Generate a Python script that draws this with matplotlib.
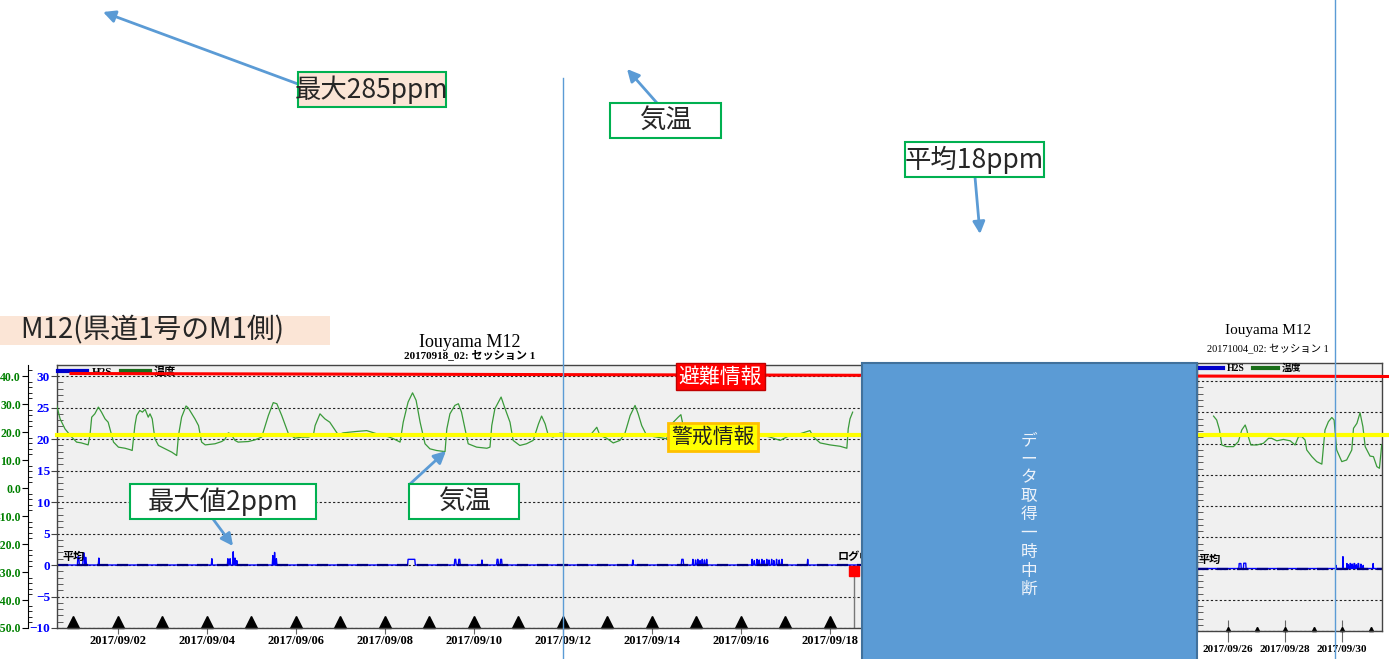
import numpy as np
import matplotlib.pyplot as plt
import matplotlib.dates as mdates
from matplotlib.patches import Rectangle, FancyArrowPatch
from matplotlib.lines import Line2D
from matplotlib.ticker import MultipleLocator, FormatStrFormatter
from datetime import datetime

W, H = 1389, 659
JP = ['Noto Sans CJK JP', 'DejaVu Sans']
SERIF = ['Liberation Serif', 'Noto Sans CJK JP']
plt.rcParams['font.family'] = SERIF

base = mdates.date2num(datetime(2017, 9, 1))

# ---- session 1 (20170918_02): days from 2017/09/01 00:00 ----
temp1_day = [-0.38, -0.30, -0.19, -0.04, 0.07, 0.18, 0.33, 0.37, 0.41, 0.48, 0.56, 0.63, 0.71, 0.78,
             0.86, 0.90, 1.01, 1.16, 1.27, 1.32, 1.38, 1.42, 1.49, 1.55, 1.61, 1.68, 1.72, 1.77,
             1.83, 1.91, 2.06, 2.21, 2.32, 2.36, 2.43, 2.53, 2.58, 2.66, 2.73, 2.81, 2.88, 2.96,
             3.18, 3.33, 3.40, 3.48, 3.52, 3.55, 3.63, 3.70, 3.93, 4.08, 4.23, 4.38, 4.49, 4.57,
             4.68, 4.83, 4.98, 5.13, 5.28, 5.39, 5.43, 5.54, 5.65, 5.76, 5.86, 5.95, 6.06, 6.36,
             6.59, 6.81, 7.04, 7.19, 7.34, 7.41, 7.52, 7.62, 7.70, 7.79, 7.90, 8.01, 8.16, 8.35,
             8.39, 8.46, 8.57, 8.65, 8.72, 8.80, 8.87, 9.06, 9.29, 9.36, 9.40, 9.47, 9.61, 9.70,
             9.81, 9.88, 10.03, 10.18, 10.33, 10.45, 10.52, 10.60, 10.67, 10.78, 10.93, 11.16,
             11.38, 11.61, 11.76, 11.83, 11.98, 12.13, 12.28, 12.39, 12.51, 12.62, 12.69, 12.77,
             12.88, 13.11, 13.33, 13.40, 13.48, 13.59, 13.65, 13.70, 13.76, 14.23, 14.83, 15.21,
             15.43, 15.65, 15.88, 16.10, 16.33, 16.55, 16.63, 16.78, 17.00, 17.23, 17.38, 17.41,
             17.45, 17.51]
temp1_val = [29.7, 24.7, 21.1, 18.2, 16.4, 16.1, 15.4, 18.8, 25.3, 26.5, 28.9, 27.1, 24.7, 23.5,
             18.8, 16.4, 14.6, 14.2, 13.7, 13.4, 22.3, 25.9, 27.7, 27.1, 28.1, 25.3, 26.5, 24.7,
             17.6, 15.2, 14.0, 12.8, 11.6, 18.8, 25.3, 29.3, 28.6, 26.5, 24.7, 22.3, 16.4, 15.4,
             15.8, 16.6, 17.3, 19.7, 19.4, 19.0, 17.0, 16.4, 16.6, 17.2, 18.2, 25.9, 30.5, 30.1,
             25.9, 19.4, 17.8, 18.2, 18.2, 18.8, 22.3, 26.5, 24.7, 23.5, 21.1, 19.0, 19.7, 20.2,
             20.5, 19.4, 18.5, 17.6, 16.4, 23.5, 30.7, 34.0, 31.3, 23.5, 15.8, 14.0, 13.4, 13.0,
             21.1, 26.5, 29.5, 30.1, 27.1, 21.1, 15.8, 14.6, 14.2, 14.6, 22.3, 28.3, 32.5, 28.3,
             23.5, 17.0, 15.2, 15.8, 17.0, 22.9, 25.7, 22.9, 18.8, 18.2, 19.6, 19.4,
             19.0, 18.8, 21.7, 18.8, 17.8, 16.1, 17.0, 19.4, 25.9, 29.5, 26.5, 22.3,
             18.8, 18.2, 17.6, 21.7, 23.5, 25.3, 26.2, 22.3, 19.9, 18.2, 19.4, 18.8,
             19.0, 18.2, 17.0, 18.8, 19.4, 20.5, 18.2, 16.1, 15.4, 14.9, 14.2, 21.1,
             24.7, 27.1]

# H2S events (start day, end day, ppm)
h2s1_start = [0.10, 0.22, 0.27, 0.57, 3.11, 3.47, 3.52, 3.59, 3.63, 3.67, 4.48, 4.52, 4.56, 7.52,
              8.57, 8.66, 9.18, 9.52, 9.60, 12.57, 13.67, 13.92, 13.98, 14.03, 14.08, 14.13, 14.18,
              14.23, 15.25, 15.30, 15.36, 15.41, 15.47, 15.52, 15.58, 15.63, 15.69, 15.74, 15.80,
              15.86, 15.92, 16.50]
h2s1_end = [0.12, 0.24, 0.28, 0.57, 3.11, 3.47, 3.52, 3.59, 3.63, 3.67, 4.48, 4.52, 4.56, 7.67,
            8.59, 8.68, 9.18, 9.54, 9.62, 12.57, 13.70, 13.92, 13.98, 14.03, 14.08, 14.13, 14.18,
            14.23, 15.25, 15.30, 15.36, 15.41, 15.47, 15.52, 15.58, 15.63, 15.69, 15.74, 15.80,
            15.86, 15.92, 16.50]
h2s1_ppm = [1.3, 1.9, 1.2, 1.1, 1.0, 1.0, 1.0, 2.1, 1.1, 0.7, 1.5, 2.0, 1.0, 0.9,
            0.9, 0.9, 0.8, 0.9, 0.9, 0.8, 0.9, 0.9, 0.8, 0.9, 0.7, 0.9, 0.8,
            0.9, 0.9, 0.7, 0.9, 0.8, 0.9, 0.7, 0.9, 0.8, 0.9, 0.7, 0.9,
            0.8, 0.9, 0.9]
h2s1_avg = 0.0
log_day = 17.54
log_val = -0.95

# ---- session 2 (20171004_02) ----
temp2_day = [24.49, 24.60, 24.70, 24.78, 24.95, 25.19, 25.36, 25.48, 25.60, 25.66, 25.71, 25.80,
             26.01, 26.24, 26.42, 26.53, 26.71, 26.94, 27.18, 27.35, 27.47, 27.59, 27.70, 27.76,
             27.94, 28.11, 28.29, 28.40, 28.52, 28.64, 28.72, 28.81, 28.99, 29.16, 29.34, 29.40,
             29.52, 29.63, 29.73, 29.81, 29.98, 30.10, 30.22, 30.31, 30.39]
temp2_val = [27.4, 26.0, 22.4, 17.0, 16.4, 16.4, 18.2, 22.4, 24.2, 22.4, 20.0, 17.0,
             17.0, 17.6, 19.4, 19.4, 18.5, 19.0, 18.5, 17.0, 20.0, 20.0, 18.8, 15.2,
             12.8, 11.0, 10.1, 22.4, 25.4, 26.9, 26.0, 15.2, 11.0, 11.6, 15.2, 23.0,
             24.8, 28.6, 23.6, 16.4, 13.0, 12.8, 9.2, 8.6, 17.0]
h2s2_start = [25.39, 25.55, 28.79, 29.03, 29.17, 29.22, 29.28, 29.36, 29.42, 29.50, 29.56, 29.66,
              29.74, 30.09]
h2s2_end = [25.45, 25.62, 28.79, 29.03, 29.17, 29.22, 29.30, 29.36, 29.44, 29.50, 29.58, 29.66,
            29.74, 30.09]
h2s2_ppm = [0.8, 0.85, 0.5, 1.9, 0.8, 0.6, 0.8, 0.7, 0.8, 0.6, 0.8, 0.7, 0.5, 0.8]
h2s2_avg = 0.0

fig = plt.figure(figsize=(W / 100, H / 100), dpi=100)


def px_rect(x0, y0, x1, y1):
    return [x0 / W, 1 - y1 / H, (x1 - x0) / W, (y1 - y0) / H]


def h2s_series(starts, ends, ppm, t0, t1):
    t, v = [t0], [0.0]
    for s, e, p in zip(starts, ends, ppm):
        t += [s - 0.012, s, e, e + 0.012]
        v += [0, p, p, 0]
    t.append(t1)
    v.append(0.0)
    return base + np.array(t), np.array(v)


def panel(rect, t0, t1, ytop, tday, tval, hs, he, hp, avg, mark_days, big):
    ax = fig.add_axes(rect)
    ax.set_facecolor('#f0f0f0')
    ax.set_xlim(base + t0, base + t1)
    ax.set_ylim(-10, ytop)
    for s in ax.spines.values():
        s.set_color('#444444')
        s.set_linewidth(1)
    ax.set_yticks(range(-10, 31, 5))
    ax.yaxis.set_minor_locator(MultipleLocator(1))
    ax.yaxis.grid(True, which='major', linestyle=(0, (2, 2)), color='#222222', lw=0.8)
    ax.tick_params(axis='y', which='major', direction='out', length=4, color='#444444',
                   labelcolor='#0000ff', labelsize=9.5, pad=1, labelleft=big)
    ax.tick_params(axis='y', which='minor', direction='in', length=4, color='#444444')
    ax.xaxis.set_major_locator(mdates.DayLocator(bymonthday=range(2, 31, 2)))
    ax.xaxis.set_major_formatter(mdates.DateFormatter('%Y/%m/%d'))
    ax.tick_params(axis='x', direction='inout', length=8 if big else 16, color='#666666',
                   labelsize=9 if big else 8, pad=1 if big else 2)
    plt.setp(ax.get_xticklabels() + ax.get_yticklabels(), fontweight='bold')

    ht, hv = h2s_series(hs, he, hp, t0, t1)
    ax.plot(ht, hv, color='#0000ff', lw=1)
    ax.axhline(avg, color='#000080', lw=1.6, dashes=(5, 4))
    md = base + np.array(mark_days)
    ax.plot(md, [-9.0 if big else -9.7] * len(md), '^', color='black',
            ms=9 if big else 3, clip_on=False)

    axg = ax.twinx()
    axg.set_ylim(-50, 40 + 2.25 * (ytop - 30))
    axg.plot(base + np.array(tday), tval, color='#3a9a3a', lw=0.9)
    for k in ['top', 'bottom', 'right']:
        axg.spines[k].set_visible(False)
    if big:
        axg.spines['left'].set_position(('outward', 21))
        axg.spines['left'].set_color('black')
        axg.yaxis.tick_left()
        axg.set_yticks(range(-50, 41, 10))
        axg.yaxis.set_minor_locator(MultipleLocator(2))
        axg.yaxis.set_major_formatter(FormatStrFormatter('%.1f'))
        axg.tick_params(axis='y', which='major', direction='out', length=4,
                        labelcolor='#008000', labelsize=8.5, pad=1)
        axg.tick_params(axis='y', which='minor', direction='in', length=3)
        plt.setp(axg.get_yticklabels(), fontweight='bold')
    else:
        axg.axis('off')

    leg = ax.legend(handles=[Line2D([], [], color='#0000cc', lw=3),
                             Line2D([], [], color='#1a6e1a', lw=3)],
                    labels=['H2S', '温度'], loc='upper left', ncol=2, frameon=False,
                    prop={'family': SERIF, 'size': 8 if big else 7, 'weight': 'bold'},
                    borderaxespad=0.1, borderpad=0, handlelength=2.6, handletextpad=0.4,
                    columnspacing=0.8)
    leg.set_zorder(5)
    return ax


ax1 = panel(px_rect(57, 365, 862, 628), -0.37, 17.72, 31.75, temp1_day, temp1_val,
            h2s1_start, h2s1_end, h2s1_ppm, h2s1_avg, list(range(0, 18)), True)
ax1.text(0.513, 1.084, 'Iouyama M12', transform=ax1.transAxes, ha='center', va='center',
         fontsize=13)
ax1.text(0.513, 1.038, '20170918_02: セッション 1', transform=ax1.transAxes, ha='center',
         va='center', fontsize=8, fontweight='bold')
ax1.text(base - 0.25, 0.3, '平均', fontsize=8, fontweight='bold', family=JP, va='bottom')
ax1.text(base + 17.18, 0.3, 'ログ中', fontsize=8, fontweight='bold', family=JP, va='bottom')
ax1.plot([base + log_day] * 2, [log_val, -10], color='#777777', lw=1)
ax1.plot(base + log_day, log_val, 's', color='#ff0000', ms=7)

ax2 = panel(px_rect(1197, 363, 1382, 631), 23.91, 30.40, 32.9, temp2_day, temp2_val,
            h2s2_start, h2s2_end, h2s2_ppm, h2s2_avg, list(range(25, 31)), False)
ax2.text(0.384, 1.123, 'Iouyama M12', transform=ax2.transAxes, ha='center', va='center',
         fontsize=11)
ax2.text(0.384, 1.05, '20171004_02: セッション 1', transform=ax2.transAxes, ha='center',
         va='center', fontsize=7.5)
ax2.text(base + 23.98, 0.4, '平均', fontsize=8, fontweight='bold', family=JP, va='bottom')

# ---- slide annotations (pixel coordinates) ----
ov = fig.add_axes([0, 0, 1, 1])
ov.set_xlim(0, W)
ov.set_ylim(H, 0)
ov.axis('off')

ov.plot([71, 1389], [373.5, 376.5], color='#ff0000', lw=2.2, zorder=1)
ov.plot([57, 1389], [435, 435], color='#ffff00', lw=3, zorder=1)
ov.plot([563, 563], [78, 659], color='#5b9bd5', lw=1, zorder=1)
ov.plot([1335, 1335], [0, 659], color='#5b9bd5', lw=1, zorder=1)


def arrow(x0, y0, x1, y1):
    ov.add_patch(FancyArrowPatch((x0, y0), (x1, y1), arrowstyle='-|>', mutation_scale=18,
                                 color='#5b9bd5', lw=2, shrinkA=0, shrinkB=0, zorder=2))


def box(x0, y0, x1, y1, text, fc, ec, tc='#262626', size=19, lw=1.5):
    ov.add_patch(Rectangle((x0, y0), x1 - x0, y1 - y0, facecolor=fc, edgecolor=ec, lw=lw,
                           zorder=3))
    ov.text((x0 + x1) / 2, (y0 + y1) / 2, text, ha='center', va='center', fontsize=size,
            color=tc, family=JP, zorder=4)


arrow(298, 84, 103, 12)
arrow(657, 103, 627, 69)
arrow(975, 177, 980, 234)
arrow(213, 519, 233, 546)
arrow(410, 484, 446, 451)

box(298, 72, 446, 107, '最大285ppm', '#fbe5d6', '#00b050')
box(610, 103, 721, 138, '気温', 'white', '#00b050')
box(905, 142, 1044, 177, '平均18ppm', 'white', '#00b050')
ov.add_patch(Rectangle((0, 316), 330, 29, facecolor='#fbe5d6', edgecolor='none', zorder=3))
ov.text(20, 330, 'M12(県道1号のM1側)', ha='left', va='center', fontsize=20, color='#262626',
        family=JP, zorder=4)
box(130, 484, 316, 519, '最大値2ppm', 'white', '#00b050')
box(409, 484, 519, 519, '気温', 'white', '#00b050')
box(676, 363, 765, 390, '避難情報', '#ff0000', '#c00000', tc='white', size=15, lw=1)
box(668, 423, 758, 451, '警戒情報', '#ffff00', '#ffc000', tc='#202020', size=15, lw=2)

ov.add_patch(Rectangle((862, 363), 335, 300, facecolor='#5b9bd5', edgecolor='#41719c', lw=1.5,
                       zorder=3))
ov.text(1029, 515, '\n'.join('データ取得一時中断'), ha='center', va='center', fontsize=12,
        color='#eef3fa', family=JP, linespacing=1.13, zorder=4)

fig.savefig('out.png', dpi=100)
